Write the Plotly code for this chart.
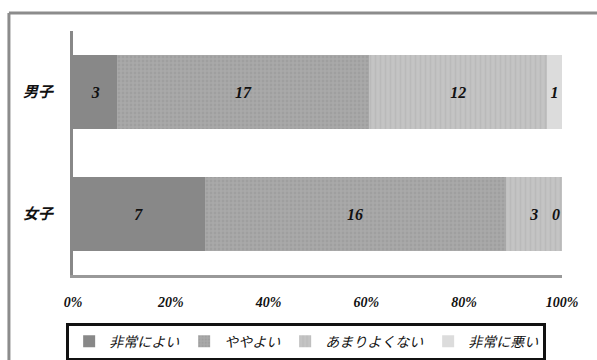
import plotly.graph_objects as go

categories = ["女子", "男子"]
series_names = ["非常によい", "ややよい", "あまりよくない", "非常に悪い"]
values = {
    "非常によい": [7, 3],
    "ややよい": [16, 17],
    "あまりよくない": [3, 12],
    "非常に悪い": [0, 1],
}
colors = ["#888888", "#a9a9a9", "#c4c4c4", "#dcdcdc"]
patterns = [
    dict(shape=""),
    dict(shape=".", fgcolor="#959595", size=4, solidity=0.4),
    dict(shape="|", fgcolor="#b0b0b0", size=5, solidity=0.3),
    dict(shape=""),
]
tick_vals = [0, 20, 40, 60, 80, 100]
tick_text = ["0%", "20%", "40%", "60%", "80%", "100%"]

FONT = "Liberation Serif, Noto Sans CJK JP, serif"

fig = go.Figure()
for name, col, pat in zip(series_names, colors, patterns):
    vals = values[name]
    fig.add_trace(go.Bar(
        y=categories, x=vals, name=name, orientation="h",
        marker=dict(color=col, line=dict(width=0), pattern=pat),
        text=[str(v) for v in vals],
        textposition="inside", insidetextanchor="middle",
        textfont=dict(family=FONT, size=16, color="#111", style="italic", weight="bold"),
        width=0.6,
        constraintext="none",
    ))

# label for zero-valued segments (plotly hides text on zero-width bars)
for i, cat in enumerate(categories):
    for name in series_names:
        if values[name][i] == 0:
            fig.add_annotation(x=100, y=cat, text=str(values[name][i]), showarrow=False,
                               xanchor="right", xshift=0,
                               font=dict(family=FONT, size=16, color="#111",
                                         style="italic", weight="bold"))

fig.update_layout(
    barmode="stack", barnorm="percent",
    width=597, height=360,
    margin=dict(l=73, r=35, t=31, b=85, autoexpand=False),
    paper_bgcolor="white", plot_bgcolor="white",
    font=dict(family=FONT, size=14, color="#111", style="italic"),
    showlegend=True,
    legend=dict(orientation="h", x=-0.014, xanchor="left", y=-0.195, yanchor="top",
                bordercolor="#111", borderwidth=3, bgcolor="white",
                font=dict(family=FONT, size=14, color="#111", style="italic"),
                traceorder="normal", itemwidth=30, entrywidth=0,
                tracegroupgap=0),
    xaxis=dict(range=[0, 100], tickvals=tick_vals, ticktext=tick_text, showgrid=False,
               zeroline=False, showline=True, linecolor="#999", linewidth=3,
               ticks="", tickfont=dict(family=FONT, size=14, color="#111", style="italic", weight="bold"),
               ticklabelstandoff=12),
    yaxis=dict(range=[-0.5, 1.5], showgrid=False, zeroline=False, showline=True,
               linecolor="#888", linewidth=3, ticks="", ticklabelstandoff=14,
               tickfont=dict(family=FONT, size=15, color="#111", style="italic", weight="bold")),
    shapes=[
        dict(type="line", xref="paper", yref="paper", x0=-0.131, x1=1.08, y0=1.074, y1=1.074,
             line=dict(color="#8c8c8c", width=3)),
        dict(type="line", xref="paper", yref="paper", x0=-0.131, x1=-0.131, y0=1.074, y1=-0.36,
             line=dict(color="#8c8c8c", width=3)),
    ],
)

fig.write_html("out.html")
